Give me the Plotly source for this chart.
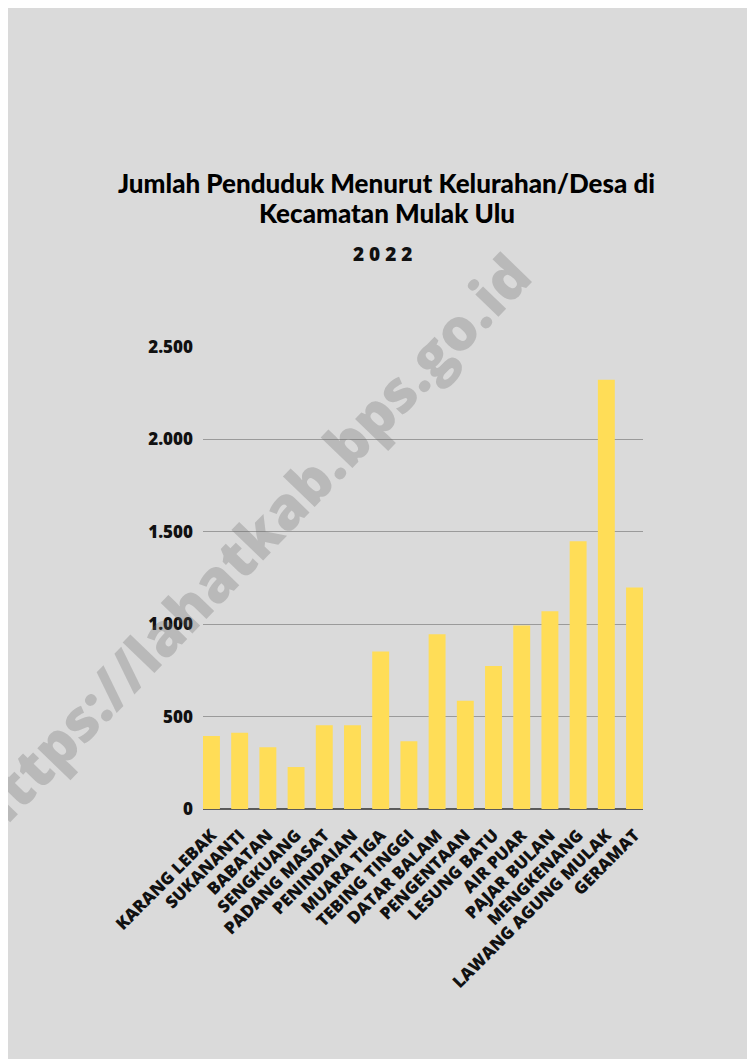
import plotly.graph_objects as go

# ---- data ----
desa = [
    "KARANG LEBAK", "SUKANANTI", "BABATAN", "SENGKUANG", "PADANG MASAT",
    "PENINDAIAN", "MUARA TIGA", "TEBING TINGGI", "DATAR BALAM", "PENGENTAAN",
    "LESUNG BATU", "AIR PUAR", "PAJAR BULAN", "MENGKENANG",
    "LAWANG AGUNG MULAK", "GERAMAT",
]
penduduk = [395, 413, 334, 227, 453, 453, 852, 366, 946, 586,
            774, 993, 1070, 1449, 2323, 1198]
y_ticks = [0, 500, 1000, 1500, 2000, 2500]

title_lines = ["Jumlah Penduduk Menurut Kelurahan/Desa di", "Kecamatan Mulak Ulu"]
subtitle = "2022"
watermark = "https://lahatkab.bps.go.id"

# page is drawn with an 8px body offset
OFF = 8
W, H = 755 - OFF, 1059 - OFF
ML, MT = 203 - OFF, 347 - OFF
MR = W - (643.5 - OFF)
MB = H - (809 - OFF)
PW, PH = W - ML - MR, H - MT - MB


def px(x):
    return (x - OFF - ML) / PW


def py(y):
    return 1 - (y - OFF - MT) / PH


fig = go.Figure()
fig.add_trace(go.Bar(
    x=list(range(len(desa))), y=penduduk,
    marker=dict(color="#FFDD57", line=dict(width=0)),
    width=0.6, hoverinfo="x+y",
))

fig.update_layout(
    width=W, height=H,
    margin=dict(l=ML, r=MR, t=MT, b=MB, autoexpand=False),
    paper_bgcolor="#dadada",
    plot_bgcolor="rgba(0,0,0,0)",
    showlegend=False,
    separators=",.",
    font=dict(family="Open Sans", color="#111111"),
)
fig.update_xaxes(
    range=[-0.3, len(desa) - 0.7],
    tickmode="array", tickvals=list(range(len(desa))), ticktext=desa,
    tickangle=-45, showgrid=False, zeroline=False, showline=False,
    ticks="", ticklabelstandoff=12,
    tickfont=dict(family="Open Sans", size=17, weight=800, color="#111111"),
)
fig.update_yaxes(
    range=[0, 2500], tickmode="array", tickvals=y_ticks, tickformat=",d",
    showgrid=True, gridcolor="#9a9a9a", gridwidth=1,
    zeroline=True, zerolinecolor="#5a5a5a", zerolinewidth=1.5,
    showline=False, ticks="", ticklabelstandoff=9,
    tickfont=dict(family="Open Sans", size=17, weight=800, color="#111111"),
)

# watermark
fig.add_annotation(
    xref="paper", yref="paper", x=px(248), y=py(543),
    xanchor="center", yanchor="middle",
    text=watermark, showarrow=False, textangle=-46,
    font=dict(family="Open Sans", size=58, weight=800, color="rgba(100,100,100,0.28)"),
)

# title
for i, line in enumerate(title_lines):
    fig.add_annotation(
        xref="paper", yref="paper", x=px(387), y=py(183 + 30 * i),
        xanchor="center", yanchor="middle", showarrow=False,
        text=line,
        font=dict(family="Lato", size=26, weight=900, color="#000000"),
    )
fig.add_annotation(
    xref="paper", yref="paper", x=px(383), y=py(254),
    xanchor="center", yanchor="middle", showarrow=False,
    text=" ".join(subtitle),
    font=dict(family="Open Sans", size=19, weight=800, color="#111111"),
)

fig.write_html("out.html")
